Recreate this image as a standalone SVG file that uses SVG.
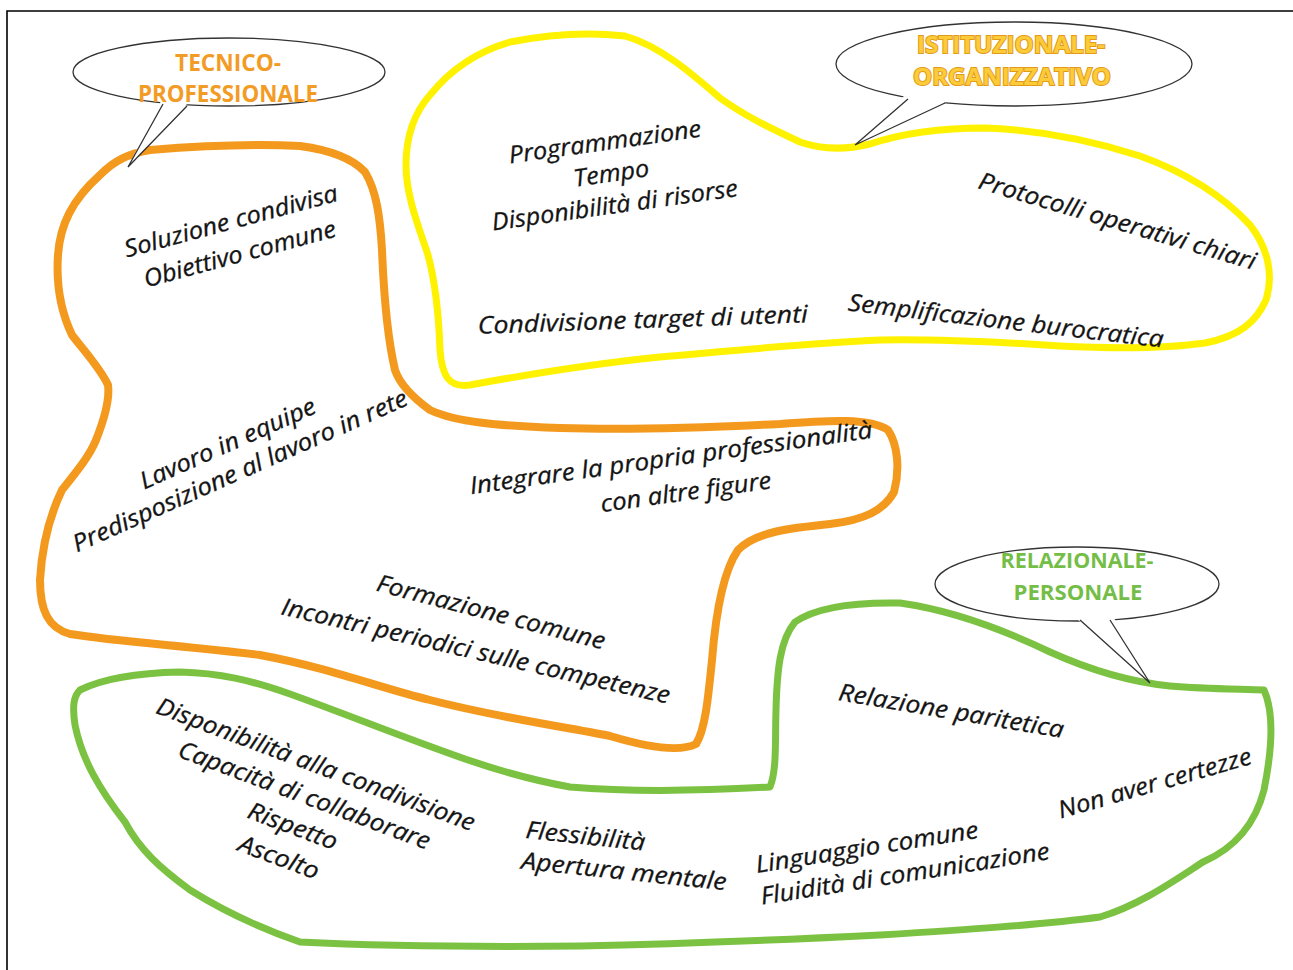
<svg xmlns="http://www.w3.org/2000/svg" width="1293" height="970" viewBox="0 0 1293 970">
  <style>
    .blob { fill: none; stroke-linejoin: round; stroke-linecap: round; }
    .orange { stroke: #F39A1E; stroke-width: 8; }
    .yellow { stroke: #FFF200; stroke-width: 7; }
    .green { stroke: #7CC242; stroke-width: 7; }
    .bubble { fill: #FFFFFF; stroke: #333333; stroke-width: 1.3; }
    .tail { fill: none; stroke: #333333; stroke-width: 1.3; stroke-linejoin: miter; }
    .tailfill { fill: #FFFFFF; stroke: none; }
    .item { font-family: "Open Sans", "Noto Sans", sans-serif; font-style: italic; font-size: 24px; fill: #141414; stroke: #141414; stroke-width: 0.3; text-anchor: middle; }
    .left { text-anchor: start; }
    .label { font-family: "Open Sans", "Noto Sans", sans-serif; font-weight: 700; text-anchor: middle; }
  </style>

  <!-- page frame -->
  <g id="frame">
    <path d="M7 970 V11 H1293" fill="none" stroke="#000" stroke-width="1.6"/>
  </g>

  <!-- hand-drawn category outlines -->
  <g id="outlines">
    <path id="outline-tecnico" class="blob orange" d="M100 175 C115 160 128 154 150 150 C200 146 260 144 300 146 C330 150 352 158 365 172 C376 190 380 215 382 250 C384 300 388 340 395 370 C400 385 412 397 430 410 C455 422 500 426 560 428 C620 430 700 428 780 424 C830 420 870 418 888 430 C898 445 900 470 894 492 C884 510 865 520 830 524 C790 528 755 532 738 550 C724 570 716 610 712 660 C708 700 705 730 696 744 C680 752 650 748 610 736 C560 726 500 718 430 700 C380 688 330 668 260 655 C190 646 120 642 70 634 C48 628 40 610 40 580 C42 545 50 515 62 490 C78 470 90 455 96 440 C104 420 110 400 108 385 C100 368 85 352 72 335 C60 310 56 285 58 255 C60 225 72 200 100 175 Z"/>
    <path id="outline-istituzionale" class="blob yellow" d="M430 95 C450 70 475 52 510 42 C550 34 590 32 625 36 C660 46 690 72 720 98 C745 116 770 128 800 142 C820 149 845 150 870 144 C900 134 940 128 985 128 C1040 130 1090 140 1140 156 C1190 174 1225 198 1250 225 C1268 248 1274 275 1266 300 C1256 322 1240 336 1205 343 C1170 348 1120 349 1060 346 C1000 342 940 339 880 340 C810 343 740 350 660 357 C590 364 530 374 470 385 C448 388 442 375 440 350 C439 320 436 285 428 255 C418 225 406 195 406 165 C406 135 415 112 430 95 Z"/>
    <path id="outline-relazionale" class="blob green" d="M80 690 C100 680 135 673 180 672 C220 673 250 680 290 694 C340 712 390 732 440 750 C480 765 520 778 570 787 C630 792 700 791 770 787 C777 770 775 740 776 710 C777 670 780 640 795 622 C815 608 850 602 900 603 C950 610 1000 628 1050 652 C1090 670 1130 682 1170 686 C1205 689 1240 689 1264 690 C1274 712 1272 750 1264 790 C1255 825 1235 848 1203 862 C1175 880 1140 905 1100 917 C1040 925 960 930 880 935 C780 940 680 944 580 946 C480 947 380 946 300 942 C260 928 225 912 190 890 C160 868 140 850 125 822 C100 790 82 760 75 725 C72 705 74 696 80 690 Z"/>
  </g>

  <!-- speech bubble: TECNICO-PROFESSIONALE -->
  <g id="bubble-tecnico">
    <ellipse class="bubble" cx="229" cy="72" rx="156" ry="34"/>
    <polygon class="tailfill" points="161,101 128,167 188,103"/>
    <polyline class="tail" points="163,104 128,167 187,106"/>
    <text class="label" x="228" y="71" font-size="24" fill="#F29B25" textLength="106" lengthAdjust="spacingAndGlyphs">TECNICO-</text>
    <text class="label" x="228" y="102" font-size="24" fill="#F29B25" textLength="180" lengthAdjust="spacingAndGlyphs">PROFESSIONALE</text>
  </g>

  <!-- speech bubble: ISTITUZIONALE-ORGANIZZATIVO -->
  <g id="bubble-istituzionale">
    <ellipse class="bubble" cx="1014" cy="64" rx="178" ry="42"/>
    <polygon class="tailfill" points="904,96 855,145 950,100"/>
    <polyline class="tail" points="908,99 855,145 945,103"/>
    <text class="label" x="1011" y="53" font-size="24" fill="#FCCB3A" stroke="#E39A18" stroke-width="2" paint-order="stroke" textLength="188" lengthAdjust="spacingAndGlyphs">ISTITUZIONALE-</text>
    <text class="label" x="1012" y="85" font-size="24" fill="#FCCB3A" stroke="#E39A18" stroke-width="2" paint-order="stroke" textLength="198" lengthAdjust="spacingAndGlyphs">ORGANIZZATIVO</text>
  </g>

  <!-- speech bubble: RELAZIONALE-PERSONALE -->
  <g id="bubble-relazionale">
    <ellipse class="bubble" cx="1077" cy="584" rx="142" ry="37"/>
    <polygon class="tailfill" points="1076,618 1150,683 1114,618"/>
    <polyline class="tail" points="1080,620 1150,683 1110,620"/>
    <text class="label" x="1077" y="568" font-size="21" fill="#74BE47" textLength="153" lengthAdjust="spacingAndGlyphs">RELAZIONALE-</text>
    <text class="label" x="1078" y="600" font-size="21" fill="#74BE47" textLength="129" lengthAdjust="spacingAndGlyphs">PERSONALE</text>
  </g>

  <!-- technical / professional items -->
  <g id="items-tecnico">
    <g transform="translate(233,229) rotate(-15)">
      <text class="item" x="0" y="0" textLength="220" lengthAdjust="spacingAndGlyphs">Soluzione condivisa</text>
      <text class="item" x="0" y="34" textLength="198" lengthAdjust="spacingAndGlyphs">Obiettivo comune</text>
    </g>
    <g transform="translate(231,451) rotate(-24)">
      <text class="item" x="0" y="0" textLength="190" lengthAdjust="spacingAndGlyphs">Lavoro in equipe</text>
      <text class="item" x="0" y="30" textLength="364" lengthAdjust="spacingAndGlyphs">Predisposizione al lavoro in rete</text>
    </g>
    <g transform="translate(672,466) rotate(-8)">
      <text class="item" x="0" y="0" textLength="406" lengthAdjust="spacingAndGlyphs">Integrare la propria professionalità</text>
      <text class="item" x="10" y="36" textLength="172" lengthAdjust="spacingAndGlyphs">con altre figure</text>
    </g>
    <g transform="translate(489,620) rotate(14.5)">
      <text class="item" x="0" y="0" textLength="235" lengthAdjust="spacingAndGlyphs">Formazione comune</text>
    </g>
    <g transform="translate(474,659) rotate(13)">
      <text class="item" x="0" y="0" textLength="398" lengthAdjust="spacingAndGlyphs">Incontri periodici sulle competenze</text>
    </g>
  </g>

  <!-- institutional / organisational items -->
  <g id="items-istituzionale">
    <g transform="translate(606,150) rotate(-8)">
      <text class="item" x="0" y="0" textLength="194" lengthAdjust="spacingAndGlyphs">Programmazione</text>
      <text class="item" x="2" y="32" textLength="76" lengthAdjust="spacingAndGlyphs">Tempo</text>
      <text class="item" x="1" y="64" textLength="248" lengthAdjust="spacingAndGlyphs">Disponibilità di risorse</text>
    </g>
    <g transform="translate(1115,229) rotate(16.5)">
      <text class="item" x="0" y="0" textLength="288" lengthAdjust="spacingAndGlyphs">Protocolli operativi chiari</text>
    </g>
    <g transform="translate(643,328) rotate(-2)">
      <text class="item" x="0" y="0" textLength="330" lengthAdjust="spacingAndGlyphs">Condivisione target di utenti</text>
    </g>
    <g transform="translate(1005,329) rotate(6.7)">
      <text class="item" x="0" y="0" textLength="317" lengthAdjust="spacingAndGlyphs">Semplificazione burocratica</text>
    </g>
  </g>

  <!-- relational / personal items -->
  <g id="items-relazionale">
    <g transform="translate(313,772) rotate(20.5)">
      <text class="item" x="0" y="0" textLength="338" lengthAdjust="spacingAndGlyphs">Disponibilità alla condivisione</text>
      <text class="item" x="0" y="33" textLength="267" lengthAdjust="spacingAndGlyphs">Capacità di collaborare</text>
      <text class="item" x="0" y="66" textLength="94" lengthAdjust="spacingAndGlyphs">Rispetto</text>
      <text class="item" x="-2" y="100" textLength="84" lengthAdjust="spacingAndGlyphs">Ascolto</text>
    </g>
    <g transform="translate(525,838) rotate(6)">
      <text class="item left" x="0" y="0" textLength="120" lengthAdjust="spacingAndGlyphs">Flessibilità</text>
      <text class="item left" x="-1" y="31" textLength="206" lengthAdjust="spacingAndGlyphs">Apertura mentale</text>
    </g>
    <g transform="translate(757,873) rotate(-9)">
      <text class="item left" x="0" y="0" textLength="225" lengthAdjust="spacingAndGlyphs">Linguaggio comune</text>
      <text class="item left" x="0" y="32" textLength="292" lengthAdjust="spacingAndGlyphs">Fluidità di comunicazione</text>
    </g>
    <g transform="translate(950,719) rotate(9.6)">
      <text class="item" x="0" y="0" textLength="228" lengthAdjust="spacingAndGlyphs">Relazione paritetica</text>
    </g>
    <g transform="translate(1157,791) rotate(-16)">
      <text class="item" x="0" y="0" textLength="200" lengthAdjust="spacingAndGlyphs">Non aver certezze</text>
    </g>
  </g>
</svg>
